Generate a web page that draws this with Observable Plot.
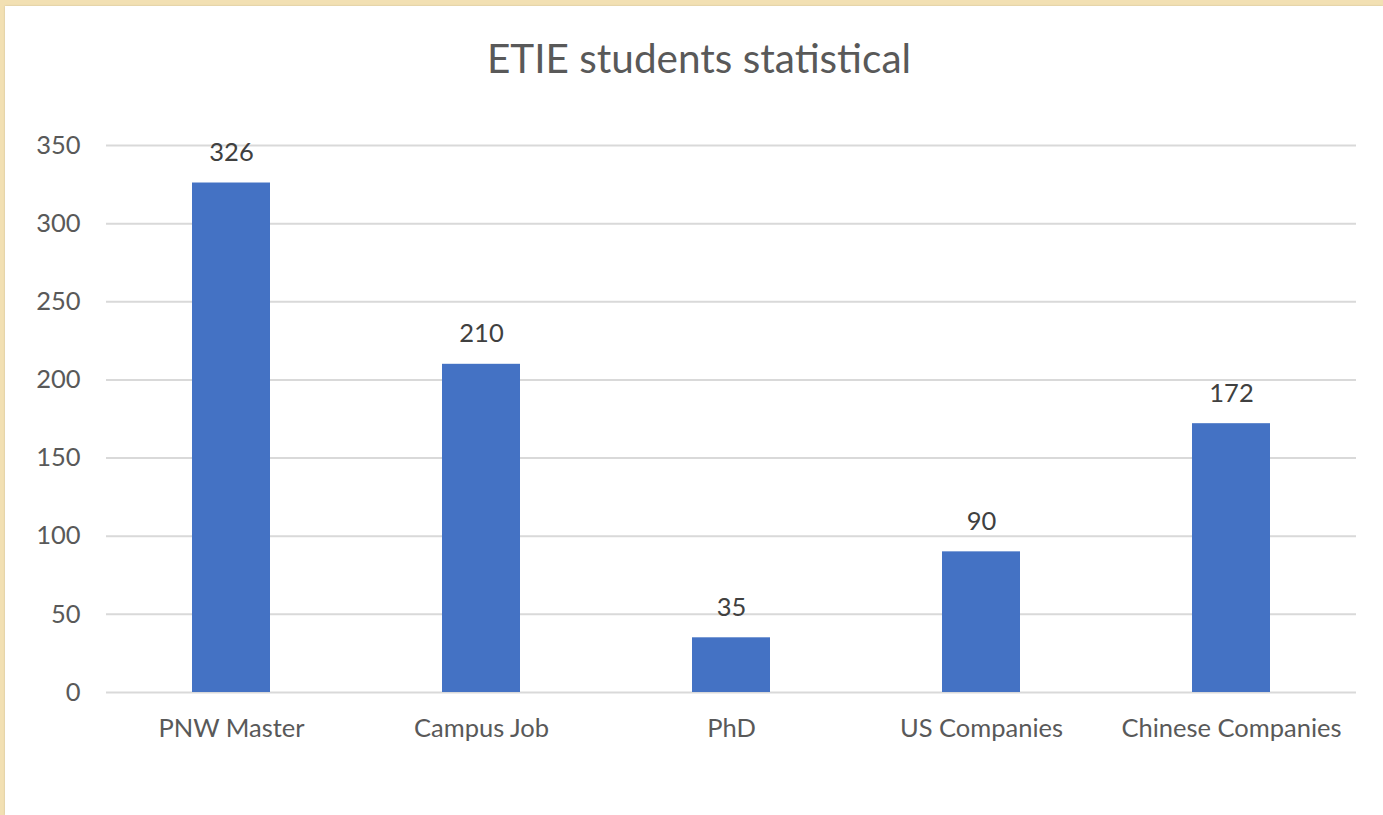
<!DOCTYPE html>
<html>
<head>
<meta charset="utf-8">
<script src="https://cdn.jsdelivr.net/npm/d3@7"></script>
<script src="https://cdn.jsdelivr.net/npm/@observablehq/plot@0.6"></script>
<style>
  html, body { margin: 0; padding: 0; background: #f2e0b3; width: 1383px; height: 815px; overflow: hidden; }
  #panel { position: absolute; left: 5px; top: 6px; width: 1378px; height: 809px; background: #fff; box-shadow: 0 0 2px rgba(0,0,0,0.15); }
  #title { height: 90px; line-height: 103px; text-align: center; padding-left: 10px; font-family: Lato, "Open Sans", sans-serif; font-size: 40.5px; color: #595959; }
</style>
</head>
<body>
<div id="panel"><div id="title">ETIE students statistical</div><div id="chart"></div></div>
<script>
const categories = ["PNW Master", "Campus Job", "PhD", "US Companies", "Chinese Companies"];
const counts = [326, 210, 35, 90, 172];
const yTicks = [0, 50, 100, 150, 200, 250, 300, 350];

const data = categories.map((c, i) => ({category: c, count: counts[i]}));

const chart = Plot.plot({
  width: 1378,
  height: 719,
  marginTop: 49,
  marginBottom: 123,
  marginLeft: 101,
  marginRight: 27,
  style: {fontFamily: "Lato, 'Open Sans', sans-serif", fontSize: "25px", color: "#595959", background: "#fff"},
  x: {domain: categories, paddingInner: 0.688, paddingOuter: 0.344, label: null},
  y: {domain: [0, 350], label: null},
  marks: [
    Plot.ruleY(yTicks, {stroke: "#d9d9d9", strokeWidth: 2}),
    Plot.barY(data, {x: "category", y: "count", fill: "#4472c4"}),
    Plot.text(data, {x: "category", y: "count", text: d => String(d.count), dy: -30, fill: "#404040", fontSize: 25.5}),
    Plot.axisY(yTicks, {tickSize: 0, tickPadding: 26, fontSize: 25.5, fill: "#595959", label: null}),
    Plot.axisX({tickSize: 0, tickPadding: 26, fontSize: 25.5, fill: "#595959", label: null})
  ]
});
document.getElementById("chart").appendChild(chart);
</script>
</body>
</html>
